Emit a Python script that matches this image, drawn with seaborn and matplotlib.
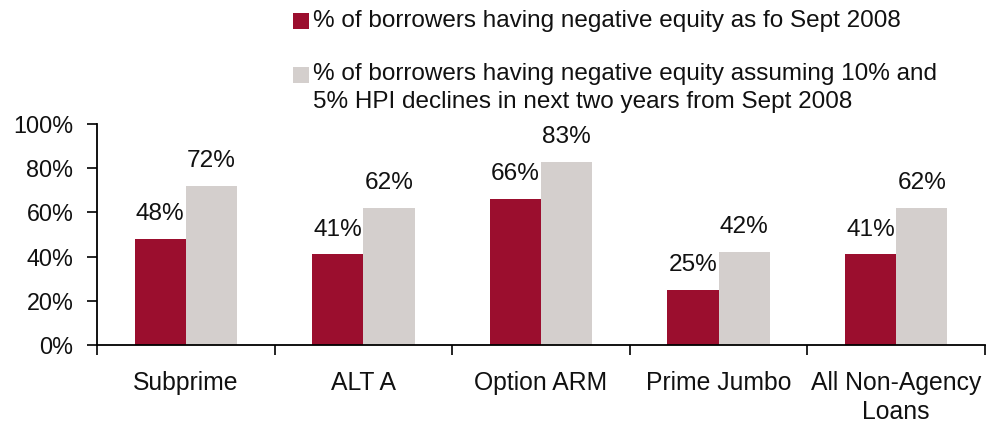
import matplotlib
matplotlib.use("Agg")
import matplotlib.pyplot as plt
import seaborn as sns
import pandas as pd
from matplotlib.patches import Rectangle

categories = ["Subprime", "ALT A", "Option ARM", "Prime Jumbo", "All Non-Agency\nLoans"]
current_pct = [48, 41, 66, 25, 41]
scenario_pct = [72, 62, 83, 42, 62]
series_names = ["% of borrowers having negative equity as fo Sept 2008",
                "% of borrowers having negative equity assuming 10% and\n5% HPI declines in next two years from Sept 2008"]
y_ticks = [0, 20, 40, 60, 80, 100]
y_tick_labels = ["0%", "20%", "40%", "60%", "80%", "100%"]

dark = "#9B0E2E"
light = "#D4CFCD"

sns.set_theme(style="white")
plt.rcParams["font.family"] = ["Liberation Sans", "DejaVu Sans"]

df = pd.DataFrame({
    "category": categories * 2,
    "value": current_pct + scenario_pct,
    "series": [series_names[0]] * len(categories) + [series_names[1]] * len(categories),
})

fig = plt.figure(figsize=(9.89, 4.23), dpi=100)
ax = fig.add_axes([97 / 989, 1 - 345 / 423, (985 - 97) / 989, (345 - 124) / 423])

sns.barplot(data=df, x="category", y="value", hue="series", palette=[dark, light],
            width=0.576, gap=0, saturation=1, ax=ax, legend=False, linewidth=0)

for cont in ax.containers:
    ax.bar_label(cont, labels=[f"{int(v)}%" for v in cont.datavalues],
                 padding=10, fontsize=17.6, color="#111111")

ax.set_ylim(0, 100)
ax.set_xlim(-0.5, len(categories) - 0.5)
ax.set_yticks(y_ticks)
ax.set_yticklabels(y_tick_labels, fontsize=16.8, color="#111111")
ax.set_xticks(range(len(categories)))
ax.set_xticklabels(categories, fontsize=17.8, color="#111111", linespacing=1.24)
ax.set_xticks([i - 0.5 for i in range(len(categories) + 1)], minor=True)
ax.tick_params(axis="x", which="major", length=0, pad=19)
ax.tick_params(axis="x", which="minor", length=7, width=1.2, color="black", direction="out", bottom=True)
ax.tick_params(axis="y", which="major", length=7, width=1.2, color="black", direction="out", left=True, pad=10)
ax.set_xlabel("")
ax.set_ylabel("")
for s in ["top", "right"]:
    ax.spines[s].set_visible(False)
for s in ["left", "bottom"]:
    ax.spines[s].set_color("black")
    ax.spines[s].set_linewidth(1.3)

# legend (manual)
W, H = 989, 423
fig.patches.append(Rectangle((293 / W, 1 - 29 / H), 16 / W, 16 / H,
                             transform=fig.transFigure, facecolor=dark, edgecolor="none"))
fig.patches.append(Rectangle((293 / W, 1 - 83 / H), 16 / W, 16 / H,
                             transform=fig.transFigure, facecolor=light, edgecolor="none"))
fig.text(313 / W, 1 - 21 / H, series_names[0], fontsize=17.5, color="#111111",
         ha="left", va="center")
fig.text(313 / W, 1 - 63 / H, series_names[1], fontsize=17.5, color="#111111",
         ha="left", va="top", linespacing=1.38)

fig.savefig("out.png", dpi=100)
